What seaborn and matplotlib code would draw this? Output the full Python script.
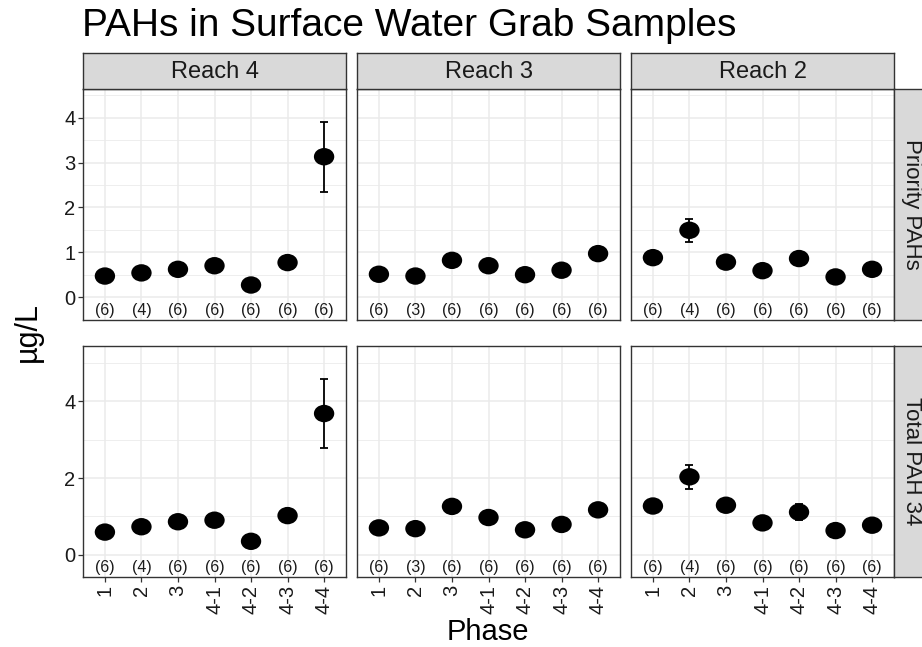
import numpy as np
import pandas as pd
import matplotlib
matplotlib.use("Agg")
import matplotlib.pyplot as plt
from matplotlib.ticker import FixedLocator
from matplotlib.path import Path
from matplotlib.transforms import Affine2D
from matplotlib.markers import MarkerStyle
import seaborn as sns

# ---- data ----
phases = ["1", "2", "3", "4-1", "4-2", "4-3", "4-4"]
reaches = ["Reach 4", "Reach 3", "Reach 2"]
groups = ["Priority PAHs", "Total PAH 34"]

priority_r4 = [0.47, 0.54, 0.62, 0.70, 0.27, 0.77, 3.13]
priority_r3 = [0.51, 0.47, 0.82, 0.70, 0.50, 0.60, 0.97]
priority_r2 = [0.88, 1.49, 0.78, 0.59, 0.86, 0.45, 0.62]
total_r4 = [0.59, 0.73, 0.86, 0.90, 0.35, 1.02, 3.68]
total_r3 = [0.70, 0.68, 1.26, 0.97, 0.65, 0.79, 1.17]
total_r2 = [1.27, 2.03, 1.29, 0.83, 1.11, 0.63, 0.77]

priority_se_r4 = [0.08, 0.10, 0.08, 0.10, 0.06, 0.12, 0.78]
priority_se_r3 = [0.06, 0.08, 0.10, 0.08, 0.06, 0.08, 0.10]
priority_se_r2 = [0.08, 0.26, 0.10, 0.08, 0.12, 0.06, 0.08]
total_se_r4 = [0.10, 0.12, 0.10, 0.12, 0.08, 0.17, 0.90]
total_se_r3 = [0.08, 0.10, 0.12, 0.10, 0.08, 0.10, 0.12]
total_se_r2 = [0.12, 0.31, 0.14, 0.10, 0.20, 0.08, 0.10]

n_r4 = [6, 4, 6, 6, 6, 6, 6]
n_r3 = [6, 3, 6, 6, 6, 6, 6]
n_r2 = [6, 4, 6, 6, 6, 6, 6]

means = {
    ("Priority PAHs", "Reach 4"): priority_r4,
    ("Priority PAHs", "Reach 3"): priority_r3,
    ("Priority PAHs", "Reach 2"): priority_r2,
    ("Total PAH 34", "Reach 4"): total_r4,
    ("Total PAH 34", "Reach 3"): total_r3,
    ("Total PAH 34", "Reach 2"): total_r2,
}
ses = {
    ("Priority PAHs", "Reach 4"): priority_se_r4,
    ("Priority PAHs", "Reach 3"): priority_se_r3,
    ("Priority PAHs", "Reach 2"): priority_se_r2,
    ("Total PAH 34", "Reach 4"): total_se_r4,
    ("Total PAH 34", "Reach 3"): total_se_r3,
    ("Total PAH 34", "Reach 2"): total_se_r2,
}
ns = {"Reach 4": n_r4, "Reach 3": n_r3, "Reach 2": n_r2}

rows = []
for g in groups:
    for r in reaches:
        for i, p in enumerate(phases):
            rows.append(dict(group=g, reach=r, phase=p,
                             mean=means[(g, r)][i], se=ses[(g, r)][i],
                             n=ns[r][i]))
df = pd.DataFrame(rows)

# ---- styling ----
sns.set_theme(style="white")
plt.rcParams["font.family"] = ["Liberation Sans", "DejaVu Sans"]

W, H = 922, 647
fig = plt.figure(figsize=(W / 100, H / 100), dpi=100)

col_left = [83, 357, 631]
panel_w = 263
row_top = [89, 346]
panel_h = 231
strip_h = 36
border = "#333333"
grid_c = "#ebebeb"

# slightly wide dot, as in the reference
ellipse = MarkerStyle(Path.unit_circle().transformed(Affine2D().scale(1.17, 1.0)))

ylims = {"Priority PAHs": (-0.51, 4.64), "Total PAH 34": (-0.58, 5.44)}
ymajor = {"Priority PAHs": [0, 1, 2, 3, 4], "Total PAH 34": [0, 2, 4]}
yminor = {"Priority PAHs": [-0.5, 0.5, 1.5, 2.5, 3.5, 4.5], "Total PAH 34": [1, 3, 5]}

for gi, g in enumerate(groups):
    for ri, r in enumerate(reaches):
        left = col_left[ri] / W
        bottom = 1 - (row_top[gi] + panel_h) / H
        ax = fig.add_axes([left, bottom, panel_w / W, panel_h / H])
        sub = df[(df.group == g) & (df.reach == r)]
        sns.scatterplot(data=sub, x="phase", y="mean", s=215, color="black",
                        marker=ellipse, edgecolor="none", linewidth=0, ax=ax,
                        legend=False, zorder=4)
        ax.errorbar(sub["phase"], sub["mean"], yerr=sub["se"], fmt="none",
                    ecolor="black", elinewidth=1.3, capsize=3.2, capthick=1.3, zorder=3)
        for i, n in enumerate(sub["n"]):
            ax.text(i, 0.042, f"({n})", transform=ax.get_xaxis_transform(),
                    ha="center", va="center", fontsize=11.5, color="#1a1a1a", zorder=5)
        ax.set_xlim(-0.6, 6.6)
        ax.set_ylim(*ylims[g])
        ax.yaxis.set_major_locator(FixedLocator(ymajor[g]))
        ax.yaxis.set_minor_locator(FixedLocator(yminor[g]))
        ax.set_axisbelow(True)
        ax.grid(which="major", color=grid_c, linewidth=1.1)
        ax.grid(which="minor", axis="y", color=grid_c, linewidth=0.6)
        ax.tick_params(which="minor", length=0)
        for sp in ax.spines.values():
            sp.set_color(border)
            sp.set_linewidth(1.0)
        ax.set_xlabel("")
        ax.set_ylabel("")
        ax.tick_params(axis="both", which="major", labelsize=14.5,
                       labelcolor="#1a1a1a", color=border, length=3.5, width=0.9)
        if ri == 0:
            ax.tick_params(axis="y", left=True, labelleft=True, pad=2)
        else:
            ax.tick_params(axis="y", left=False, labelleft=False)
        if gi == 1:
            ax.tick_params(axis="x", bottom=True, labelbottom=True,
                           labelrotation=90, pad=2)
        else:
            ax.tick_params(axis="x", bottom=False, labelbottom=False)

        # top strips
        if gi == 0:
            sax = fig.add_axes([left, 1 - row_top[0] / H, panel_w / W, strip_h / H])
            sax.set_facecolor("#d9d9d9")
            sax.set_xticks([]); sax.set_yticks([])
            for sp in sax.spines.values():
                sp.set_color(border); sp.set_linewidth(1.0)
            sax.text(0.5, 0.48, r, ha="center", va="center", fontsize=17,
                     color="#1a1a1a", transform=sax.transAxes)
        # right strips
        if ri == 2:
            rax = fig.add_axes([(col_left[2] + panel_w) / W, bottom, strip_h / W, panel_h / H])
            rax.set_facecolor("#d9d9d9")
            rax.set_xticks([]); rax.set_yticks([])
            for sp in rax.spines.values():
                sp.set_color(border); sp.set_linewidth(1.0)
            rax.text(0.48, 0.5, g, ha="center", va="center", rotation=270,
                     fontsize=16, color="#1a1a1a", transform=rax.transAxes)

fig.text(82 / W, 1 - 36 / H, "PAHs in Surface Water Grab Samples",
         fontsize=28, ha="left", va="baseline", color="black")
fig.text(28 / W, 1 - 332 / H, "µg/L", rotation=90, fontsize=22,
         ha="center", va="center", color="black")
fig.text(488 / W, 1 - 632 / H, "Phase", fontsize=21,
         ha="center", va="center", color="black")

fig.savefig("out.png", dpi=100)
